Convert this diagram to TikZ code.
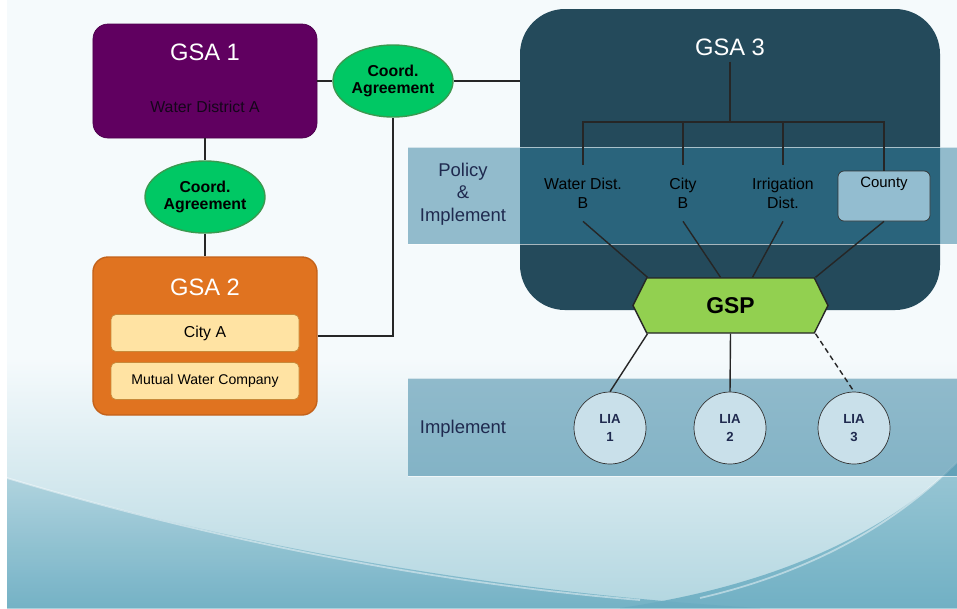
\documentclass[tikz,border=0pt]{standalone}
\usepackage{fontspec}
\setmainfont{Liberation Sans}
\usetikzlibrary{shapes,shapes.symbols,positioning,calc}

\definecolor{bgtop}{HTML}{F5FAFC}
\definecolor{bglow}{HTML}{B2D6E0}
\definecolor{bgteal}{HTML}{6AACC1}
\definecolor{gsapurple}{HTML}{600060}
\definecolor{darkplum}{HTML}{14061A}
\definecolor{gsaorange}{HTML}{E07320}
\definecolor{orangeedge}{HTML}{C4621A}
\definecolor{cityfill}{HTML}{FFE3A3}
\definecolor{cityedge}{HTML}{C88A3A}
\definecolor{coordgreen}{HTML}{00C864}
\definecolor{coordedge}{HTML}{3A9A50}
\definecolor{gsateal}{HTML}{244A5B}
\definecolor{bandblue}{HTML}{317E9E}
\definecolor{countyfill}{HTML}{93BDD0}
\definecolor{gspgreen}{HTML}{92D050}
\definecolor{liafill}{HTML}{C9E0EA}
\definecolor{textnavy}{HTML}{1F2A4F}

\tikzstyle{gsabox} = [rectangle, rounded corners=3mm, inner sep=0pt]
\tikzstyle{agree} = [ellipse, draw=coordedge, fill=coordgreen, line width=0.8pt, minimum width=24mm, minimum height=14.4mm, inner sep=0pt, font=\fontsize{9}{10}\selectfont\bfseries]
\tikzstyle{member} = [rectangle, rounded corners=1mm, draw=cityedge, fill=cityfill, minimum width=37.6mm, minimum height=7.4mm]
\tikzstyle{unit} = [minimum height=11.2mm, font=\fontsize{9}{10.8}\selectfont]
\tikzstyle{lia} = [circle, draw=black!80, fill=liafill, minimum size=14.4mm, inner sep=0pt, font=\fontsize{7.5}{10}\selectfont\bfseries, text=textnavy]
\tikzstyle{band} = [fill=bandblue, fill opacity=0.5]
\tikzstyle{title} = [text=white, font=\fontsize{13.5}{15}\selectfont]
\tikzstyle{link} = [line width=0.8pt, draw=black!85]

\begin{document}
\begin{tikzpicture}[x=0.2mm, y=-0.2mm, every text node part/.style={align=center}]
   \useasboundingbox (0,0) rectangle (957,608);
   % Background
   \fill[white] (0,0) rectangle (957,608);
   \fill[bgtop] (7,0) rectangle (957,608);
   \shade[top color=bgtop, bottom color=bglow] (7,360) rectangle (957,608);
   \shade[top color=bgteal!55!bgtop, bottom color=bgteal, opacity=.85] (7,478) .. controls (180,530) and (450,590) .. (760,608) -- (7,608) -- cycle;
   \shade[top color=bgteal!70!bgtop, bottom color=bgteal, opacity=.9] (957,462) .. controls (890,530) and (780,585) .. (620,608) -- (957,608) -- cycle;
   \draw[white, opacity=.45, line width=1pt] (7,478) .. controls (180,530) and (400,580) .. (640,600);
   \draw[white, opacity=.45, line width=1pt] (957,462) .. controls (890,530) and (800,575) .. (700,598);

   % Place nodes
   \node [gsabox, fill=gsateal, minimum width=84mm, minimum height=60.2mm, rounded corners=9mm] (gsa3) at (730,159.5) {};
   \fill[band] (408,147) rectangle (957,244);
   \fill[band] (408,378) rectangle (957,476);
   \draw[white, opacity=.6] (408,147) -- (957,147) (408,244) -- (957,244);
   \draw[white, opacity=.6] (408,378) -- (957,378) (408,476) -- (957,476);
   \node [title] (gsa3t) at (730,47) {GSA 3};

   \node [gsabox, fill=gsapurple, draw=gsapurple!80!black, minimum width=44.8mm, minimum height=22.8mm] (gsa1) at (205,81) {};
   \node [title] (gsa1t) at (205,52) {GSA 1};
   \node [font=\fontsize{9}{10}\selectfont, text=darkplum] (wda) at (205,107) {Water District A};

   \node [agree] (ca1) at (393,81) {Coord.\\Agreement};
   \node [agree] (ca2) at (205,197) {Coord.\\Agreement};

   \node [gsabox, fill=gsaorange, draw=orangeedge, line width=0.8pt, minimum width=44.8mm, minimum height=31.6mm] (gsa2) at (205,336) {};
   \node [title] (gsa2t) at (205,287) {GSA 2};
   \node [member, font=\fontsize{9}{10}\selectfont] (citya) at (205,333) {City A};
   \node [member, font=\fontsize{8}{10}\selectfont] (mwc) at (205,381) {Mutual Water Company};

   \node [font=\fontsize{10.5}{12.8}\selectfont, text=textnavy] (pol) at (463,194) {Policy\\\&\\Implement};
   \node [font=\fontsize{10.5}{12.8}\selectfont, text=textnavy] (impl) at (463,429) {Implement};

   \node [unit] (wdb) at (583,193) {Water Dist.\\B};
   \node [unit] (cityb) at (683,193) {City\\B};
   \node [unit] (irr) at (783,193) {Irrigation\\Dist.};
   \node [rectangle, rounded corners=1.2mm, draw=black!80, fill=countyfill, minimum width=18.4mm, minimum height=10mm,
          label={[anchor=north, font=\fontsize{8.5}{10}\selectfont]north:County}] (cty) at (884,196) {};

   \node [signal, signal to=west and east, signal pointer angle=127, draw=black!85, line width=0.8pt, fill=gspgreen,
          minimum width=39mm, minimum height=11mm, inner sep=0pt, font=\fontsize{13}{14}\selectfont\bfseries] (gsp) at (730.5,305.5) {GSP};

   \node [lia] (lia1) at (610,428) {LIA\\1};
   \node [lia] (lia2) at (730,428) {LIA\\2};
   \node [lia] (lia3) at (854,428) {LIA\\3};

   % Connectors
   \draw[link] (gsa1) -- (ca1);
   \draw[link] (ca1) -- (ca1 -| gsa3.west);
   \draw[link] (gsa1) -- (ca2);
   \draw[link] (ca2) -- (gsa2);
   \draw[link] (gsa2.east) -| (ca1.south);

   \coordinate (fork) at (730,122);
   \draw[link] (gsa3t.south) -- (fork);
   \foreach \n in {wdb, cityb, irr, cty}
      \draw[link] (\n.north) |- (fork);

   \draw[link] (wdb.south) -- ([xshift=-16.6mm]gsp.north);
   \draw[link] (cityb.south) -- ([xshift=-2mm]gsp.north);
   \draw[link] (irr.south) -- ([xshift=4.4mm]gsp.north);
   \draw[link] (cty.south) -- ([xshift=17mm]gsp.north);

   \draw[link] ([xshift=-16.6mm]gsp.south) -- (lia1.north);
   \draw[link] (gsp.south) -- (lia2.north);
   \draw[link, densely dashed] ([xshift=17mm]gsp.south) -- (lia3.north);
\end{tikzpicture}
\end{document}
